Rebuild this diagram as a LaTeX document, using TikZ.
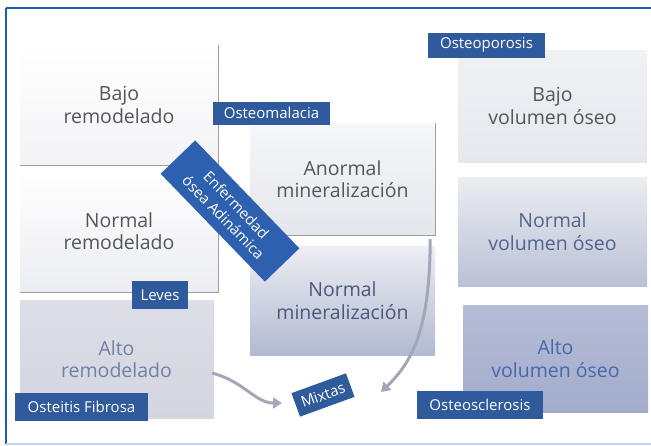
\documentclass[tikz,border=0pt]{standalone}
\usepackage{fontspec}
\setmainfont{Open Sans}
\usepackage{tikz}
\usetikzlibrary{arrows.meta, positioning, calc}

\definecolor{frameblue}{HTML}{1D5CB3}
\definecolor{framelight}{HTML}{C2D5EE}
\definecolor{tagblue}{HTML}{2F5A9C}
\definecolor{enfblue}{HTML}{2D60AE}
\definecolor{txtgray}{HTML}{55565D}
\definecolor{arrgray}{HTML}{A3A7B6}

\begin{document}
\begin{tikzpicture}[
    x=1pt, y=-1pt,
    box/.style={
        rectangle, inner sep=0pt, align=center,
        font=\fontsize{19.5}{22.5}\selectfont, text=txtgray
    },
    tag/.style={
        rectangle, fill=tagblue, text=white, inner sep=0pt,
        minimum height=25pt, font=\fontsize{15}{16}\selectfont
    },
    edge/.style={draw=gray!75, line width=0.8pt},
    arr/.style={draw=arrgray, line width=3pt,
        -{Triangle[width=11pt, length=9pt]}},
]
\useasboundingbox (0,0) rectangle (651,445);

% --- outer frame ---
\draw[frameblue, line width=2.5pt] (6,8) -- (651,8);
\draw[frameblue, line width=2.5pt] (6,8) -- (6,444);
\draw[framelight, line width=2pt] (6,443.5) -- (651,443.5);

% --- remodelado (left column) ---
\node[box, minimum width=198pt, minimum height=120pt,
      top color=white, bottom color={rgb,255:red,243;green,243;blue,246}] (BR) at (119,105)
      {Bajo\\remodelado};
\node[box, minimum width=198pt, minimum height=122pt,
      top color=white, bottom color={rgb,255:red,236;green,237;blue,242}] (NR) at (119,231)
      {Normal\\remodelado};
\node[box, minimum width=193pt, minimum height=118pt,
      top color={rgb,255:red,221;green,222;blue,230},
      bottom color={rgb,255:red,211;green,213;blue,224},
      text={rgb,255:red,112;green,128;blue,168}] (AR) at (116.5,359)
      {Alto\\remodelado};
\draw[edge] (BR.north east) -- (BR.south east) -- (BR.south west);
\draw[edge] (NR.north east) -- (NR.south east) -- (NR.south west);
\draw[edge, draw=gray!30] (AR.north east) -- (AR.south east) -- (AR.south west);

% --- mineralizacion (middle column) ---
\node[box, minimum width=185pt, minimum height=112pt,
      top color={rgb,255:red,246;green,247;blue,249},
      bottom color={rgb,255:red,228;green,230;blue,237}] (AM) at (342.5,179)
      {Anormal\\mineralización};
\node[box, minimum width=185pt, minimum height=109pt,
      top color={rgb,255:red,236;green,238;blue,243},
      bottom color={rgb,255:red,178;green,186;blue,210},
      text={rgb,255:red,76;green,88;blue,120}] (NM) at (342.5,300.5)
      {Normal\\mineralización};
\draw[edge] (AM.north east) -- (AM.south east) -- (AM.south west);

% --- volumen oseo (right column) ---
\node[box, minimum width=189pt, minimum height=112pt,
      top color={rgb,255:red,240;green,241;blue,245},
      bottom color={rgb,255:red,231;green,232;blue,238}] (BV) at (552.5,106)
      {Bajo\\volumen óseo};
\node[box, minimum width=189pt, minimum height=109pt,
      top color={rgb,255:red,236;green,237;blue,242},
      bottom color={rgb,255:red,186;green,192;blue,214},
      text={rgb,255:red,84;green,100;blue,140}] (NV) at (552.5,231.5)
      {Normal\\volumen óseo};
\node[box, minimum width=185pt, minimum height=107pt,
      top color={rgb,255:red,182;green,189;blue,214},
      bottom color={rgb,255:red,162;green,171;blue,203},
      text={rgb,255:red,70;green,104;blue,172}] (AV) at (555.5,358.5)
      {Alto\\volumen óseo};

% --- tags ---
\node[tag, minimum width=117pt, minimum height=23pt] (OM) at (271.5,113) {Osteomalacia};
\node[tag, minimum width=117pt] (OP) at (486.5,45) {Osteoporosis};
\node[tag, minimum width=56pt, minimum height=28pt] (LV) at (160,295) {Leves};
\node[tag, minimum width=133pt, minimum height=28pt] (OF) at (81.5,406.5) {Osteitis Fibrosa};
\node[tag, minimum width=126pt, minimum height=28pt] (OS) at (480,405) {Osteosclerosis};
\node[tag, minimum width=58pt, minimum height=25pt, rotate=20] (MX) at (323,395) {Mixtas};
\node[tag, fill=enfblue, align=center, minimum width=150pt, minimum height=48pt,
      rotate=-46, font=\fontsize{15}{18}\selectfont] (EA) at (230,211)
      {Enfermedad\\ósea Adinámica};

% --- Connections ---
\coordinate (tipA) at (282,403);
\coordinate (tipB) at (381,392);
\draw[arr] ($(AR.east)+(-1,14)$) .. controls (245,382) and (255,403) .. (tipA);
\draw[arr] ($(AM.south east)+(-5,4)$) .. controls (430,330) and (412,362) .. (tipB);

\end{tikzpicture}
\end{document}
